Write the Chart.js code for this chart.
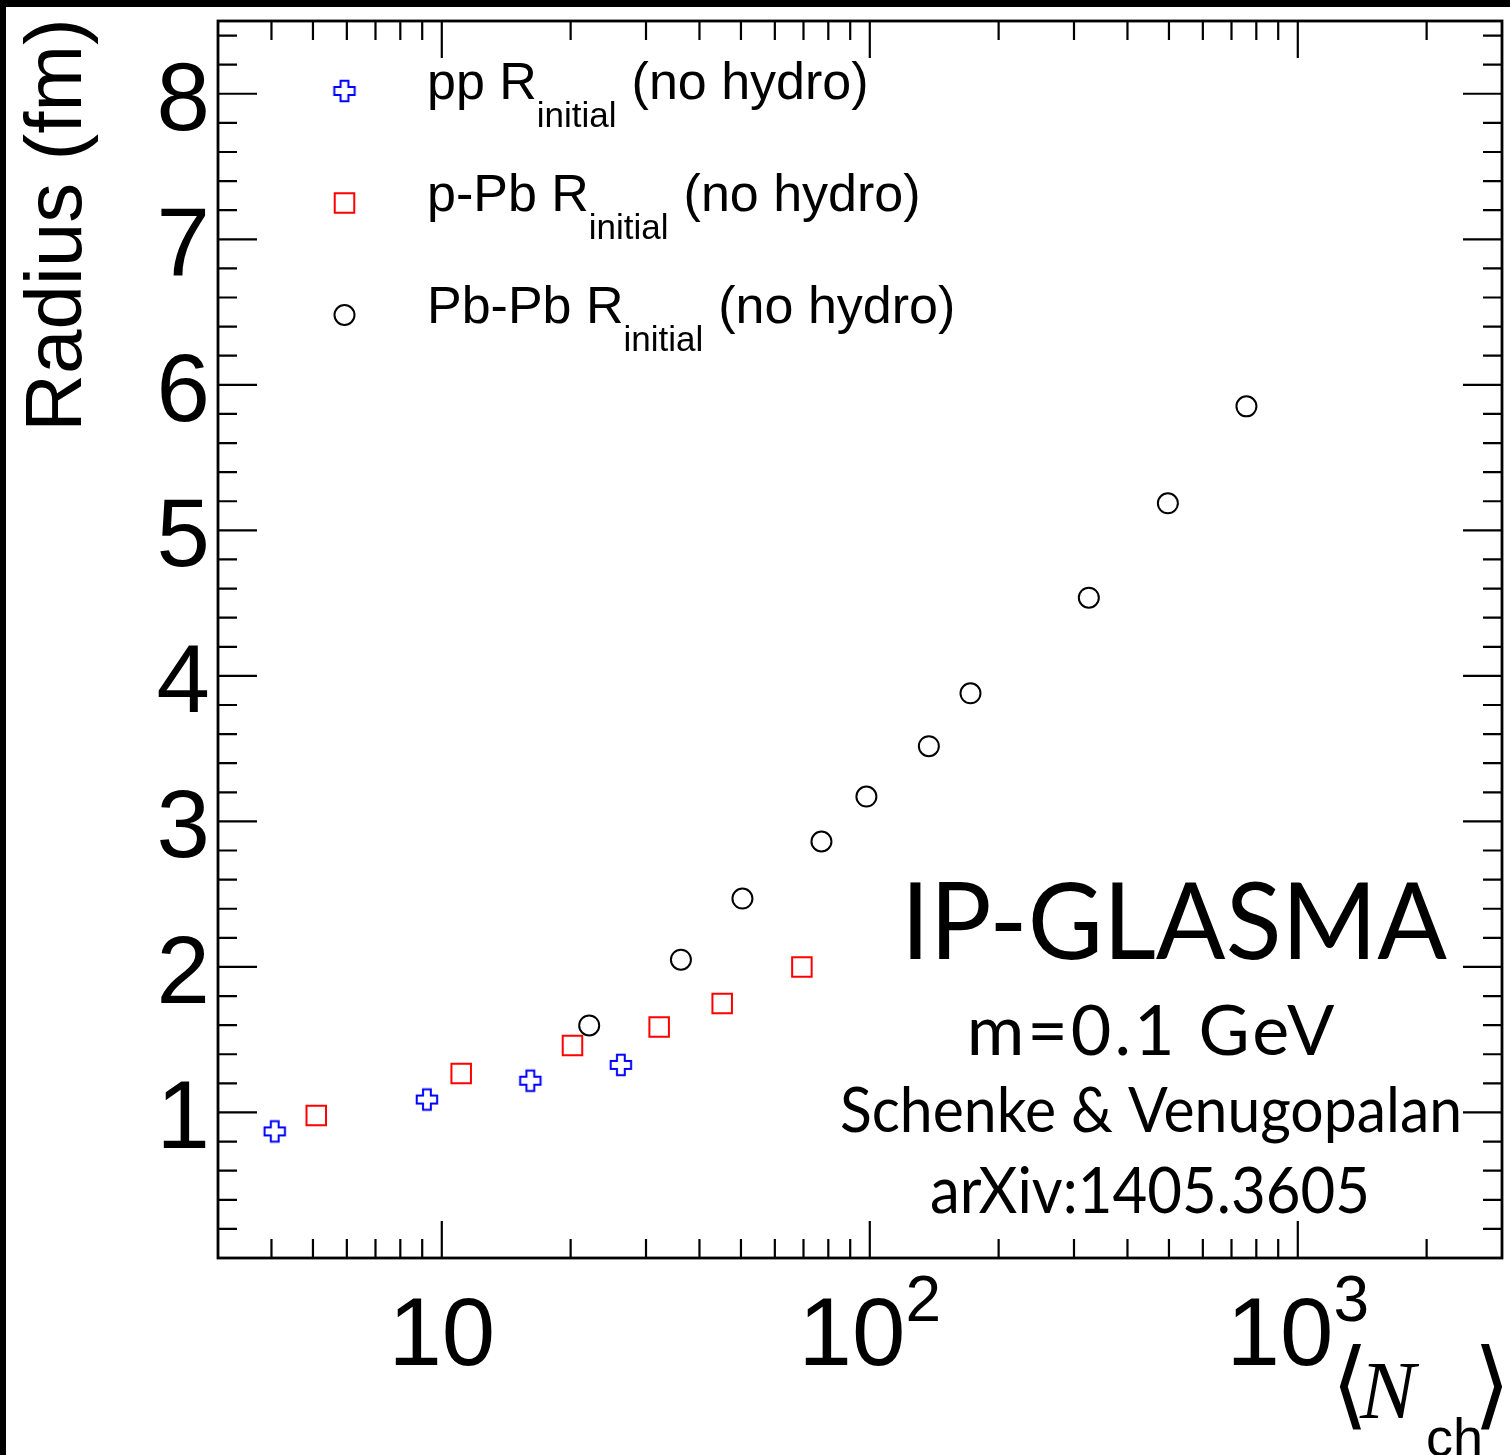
<!DOCTYPE html>
<html>
<head>
<meta charset="utf-8">
<script src="https://cdn.jsdelivr.net/npm/chart.js@4.4.0/dist/chart.umd.min.js"></script>
<style>
  html, body { margin: 0; padding: 0; background: #fff; }
  canvas { display: block; }
</style>
</head>
<body>
<canvas id="myChart" width="1510" height="1455"></canvas>
<script>
// values (x = <Nch>, y = radius in fm)
const ppNch = [4.07, 9.23, 16.1, 26.2]
const ppRadius = [0.870, 1.089, 1.218, 1.327]
const pPbNch = [5.09, 11.1, 20.2, 32.2, 45.2, 69.4]
const pPbRadius = [0.979, 1.268, 1.460, 1.588, 1.748, 2.000]
const PbPbNch = [22.1, 36.2, 50.4, 77.1, 98.2, 137.4, 171.9, 324.9, 497.1, 758.6]
const PbPbRadius = [1.598, 2.050, 2.470, 2.862, 3.171, 3.517, 3.880, 4.537, 5.186, 5.852]

const seriesNames = ['pp R', 'p-Pb R', 'Pb-Pb R']
const seriesSub = 'initial'
const seriesSuffix = '(no hydro)'

const xTicks = [10, 100, 1000]
const xTickBase = ['10', '10', '10']
const xTickExp = ['', '2', '3']
const yTicks = [1, 2, 3, 4, 5, 6, 7, 8]
const yTickLabels = ['1', '2', '3', '4', '5', '6', '7', '8']

const notes = ['IP-GLASMA', 'm=0.1 GeV', 'Schenke & Venugopalan', 'arXiv:1405.3605']

// outlined plus marker (ROOT style 28)
function plusIcon(color) {
    const c = document.createElement('canvas')
    c.width = 26; c.height = 26
    const g = c.getContext('2d')
    const m = 13, s = 10.2, a = 3.9
    g.beginPath()
    g.moveTo(m - a, m - s); g.lineTo(m + a, m - s); g.lineTo(m + a, m - a)
    g.lineTo(m + s, m - a); g.lineTo(m + s, m + a); g.lineTo(m + a, m + a)
    g.lineTo(m + a, m + s); g.lineTo(m - a, m + s); g.lineTo(m - a, m + a)
    g.lineTo(m - s, m + a); g.lineTo(m - s, m - a); g.lineTo(m - a, m - a)
    g.closePath()
    g.strokeStyle = color
    g.lineWidth = 2
    g.stroke()
    return c
}
const plus = plusIcon('#0000ff')

const toPoints = (xs, ys) => xs.map((x, i) => ({x: x, y: ys[i]}))

const datasets = [
    {
        label: seriesNames[0], data: toPoints(ppNch, ppRadius),
        pointStyle: plus, pointRadius: 11, borderColor: '#0000ff', backgroundColor: 'rgba(0,0,0,0)', pointBorderWidth: 2
    },
    {
        label: seriesNames[1], data: toPoints(pPbNch, pPbRadius),
        pointStyle: 'rect', pointRadius: 13.8, borderColor: '#ff0000', backgroundColor: 'rgba(0,0,0,0)', pointBorderWidth: 2
    },
    {
        label: seriesNames[2], data: toPoints(PbPbNch, PbPbRadius),
        pointStyle: 'circle', pointRadius: 10, borderColor: '#000000', backgroundColor: 'rgba(0,0,0,0)', pointBorderWidth: 2
    }
]

function marker(ctx, ds, x, y) {
    ctx.save()
    ctx.strokeStyle = ds.borderColor
    ctx.fillStyle = 'rgba(0,0,0,0)'
    ctx.lineWidth = 2
    if (Chart.helpers && Chart.helpers.drawPoint) {
        Chart.helpers.drawPoint(ctx, {pointStyle: ds.pointStyle, radius: ds.pointRadius, rotation: 0, borderWidth: 2}, x, y)
    } else if (ds.pointStyle === 'rect') {
        const h = ds.pointRadius * Math.SQRT1_2
        ctx.strokeRect(x - h, y - h, 2 * h, 2 * h)
    } else if (ds.pointStyle === 'circle') {
        ctx.beginPath(); ctx.arc(x, y, ds.pointRadius, 0, 2 * Math.PI); ctx.stroke()
    } else {
        ctx.drawImage(ds.pointStyle, x - 13, y - 13)
    }
    ctx.restore()
}

const rootFrame = {
    id: 'rootFrame',
    beforeDraw(chart) {
        const ctx = chart.ctx
        ctx.save()
        ctx.fillStyle = '#fff'
        ctx.fillRect(0, 0, chart.width, chart.height)
        ctx.fillStyle = '#000'
        ctx.fillRect(0, 0, chart.width, 7)
        ctx.fillRect(0, 0, 6, chart.height)
        ctx.restore()
    },
    afterDraw(chart) {
        const ctx = chart.ctx
        const a = chart.chartArea
        const xs = chart.scales.x, ys = chart.scales.y
        ctx.save()
        ctx.strokeStyle = '#000'
        ctx.fillStyle = '#000'

        // ticks, drawn inward on all four sides
        ctx.lineWidth = 2.2
        ctx.beginPath()
        for (let d = 1; d <= 1000; d *= 10) {
            for (let k = 1; k < 10; k++) {
                const v = k * d
                if (v <= xs.min || v >= xs.max) continue
                const px = xs.getPixelForValue(v)
                const len = k === 1 ? 37 : 19
                ctx.moveTo(px, a.bottom); ctx.lineTo(px, a.bottom - len)
                ctx.moveTo(px, a.top); ctx.lineTo(px, a.top + len)
            }
        }
        for (let i = 1; i < 43; i++) {
            const v = i * 0.2
            const py = ys.getPixelForValue(v)
            const len = i % 5 === 0 ? 39 : 19
            ctx.moveTo(a.left, py); ctx.lineTo(a.left + len, py)
            ctx.moveTo(a.right, py); ctx.lineTo(a.right - len, py)
        }
        ctx.stroke()

        ctx.lineWidth = 2.8
        ctx.strokeRect(a.left, a.top, a.right - a.left, a.bottom - a.top)

        // y tick labels
        ctx.font = '96px "Liberation Sans", Arial, sans-serif'
        ctx.textAlign = 'right'
        ctx.textBaseline = 'alphabetic'
        yTicks.forEach((v, i) => {
            ctx.fillText(yTickLabels[i], 210, ys.getPixelForValue(v) + 36)
        })

        // x tick labels with superscript exponent
        xTicks.forEach((v, i) => {
            const px = xs.getPixelForValue(v)
            ctx.font = '96px "Liberation Sans", Arial, sans-serif'
            const wb = ctx.measureText(xTickBase[i]).width
            ctx.font = '64px "Liberation Sans", Arial, sans-serif'
            const we = xTickExp[i] ? ctx.measureText(xTickExp[i]).width : 0
            const x0 = px - (wb + we) / 2
            ctx.textAlign = 'left'
            ctx.font = '96px "Liberation Sans", Arial, sans-serif'
            ctx.fillText(xTickBase[i], x0, 1365)
            if (xTickExp[i]) {
                ctx.font = '64px "Liberation Sans", Arial, sans-serif'
                ctx.fillText(xTickExp[i], x0 + wb, 1321)
            }
        })

        // y axis title
        ctx.save()
        ctx.translate(81, 225)
        ctx.rotate(-Math.PI / 2)
        ctx.textAlign = 'center'
        ctx.font = '80px "Liberation Sans", Arial, sans-serif'
        ctx.fillText('Radius (fm)', 0, 0)
        ctx.restore()

        // x axis title  <N_ch>
        ctx.textAlign = 'center'
        ctx.textBaseline = 'middle'
        ctx.font = '96px "DejaVu Sans"'
        ctx.fillText('\u27E8', 1350, 1392)
        ctx.fillText('\u27E9', 1492, 1392)
        ctx.textBaseline = 'alphabetic'
        ctx.textAlign = 'left'
        ctx.font = 'italic 83px "Liberation Serif", serif'
        ctx.fillText('N', 1360, 1418)
        ctx.font = '54px "Liberation Sans", Arial, sans-serif'
        ctx.fillText('ch', 1426, 1456)

        // legend
        const rows = [99, 211, 323]
        chart.data.datasets.forEach((ds, i) => {
            marker(ctx, ds, 344.5, rows[i] - 8)
            ctx.fillStyle = '#000'
            ctx.textAlign = 'left'
            ctx.font = '52px "Liberation Sans", Arial, sans-serif'
            ctx.fillText(seriesNames[i], 427, rows[i])
            const w1 = ctx.measureText(seriesNames[i]).width
            ctx.font = '35px "Liberation Sans", Arial, sans-serif'
            ctx.fillText(seriesSub, 427 + w1, rows[i] + 28)
            const w2 = ctx.measureText(seriesSub).width
            ctx.font = '52px "Liberation Sans", Arial, sans-serif'
            ctx.fillText(seriesSuffix, 427 + w1 + w2 + 15, rows[i])
        })

        // model annotation
        ctx.textAlign = 'center'
        ctx.font = '107px Lato, sans-serif'
        ctx.fillText(notes[0], 1174, 959, 546)
        ctx.font = '70px Lato, sans-serif'
        ctx.letterSpacing = '3px'
        ctx.fillText(notes[1], 1152, 1055, 372)
        ctx.letterSpacing = '0px'
        ctx.font = '61px Lato, sans-serif'
        ctx.fillText(notes[2], 1151, 1132, 622)
        ctx.font = '63px Lato, sans-serif'
        ctx.fillText(notes[3], 1150, 1213, 440)
        ctx.restore()
    }
}

const chart = new Chart(document.getElementById('myChart'), {
    type: 'scatter',
    data: { datasets: datasets },
    options: {
        responsive: false,
        animation: false,
        layout: { autoPadding: false, padding: { left: 218, top: 21, right: 8, bottom: 197 } },
        plugins: { legend: { display: false }, tooltip: { enabled: false } },
        scales: {
            x: { type: 'logarithmic', min: 3, max: 3000, display: false },
            y: { type: 'linear', min: 0, max: 8.5, display: false }
        }
    },
    plugins: [rootFrame]
})
</script>
</body>
</html>
